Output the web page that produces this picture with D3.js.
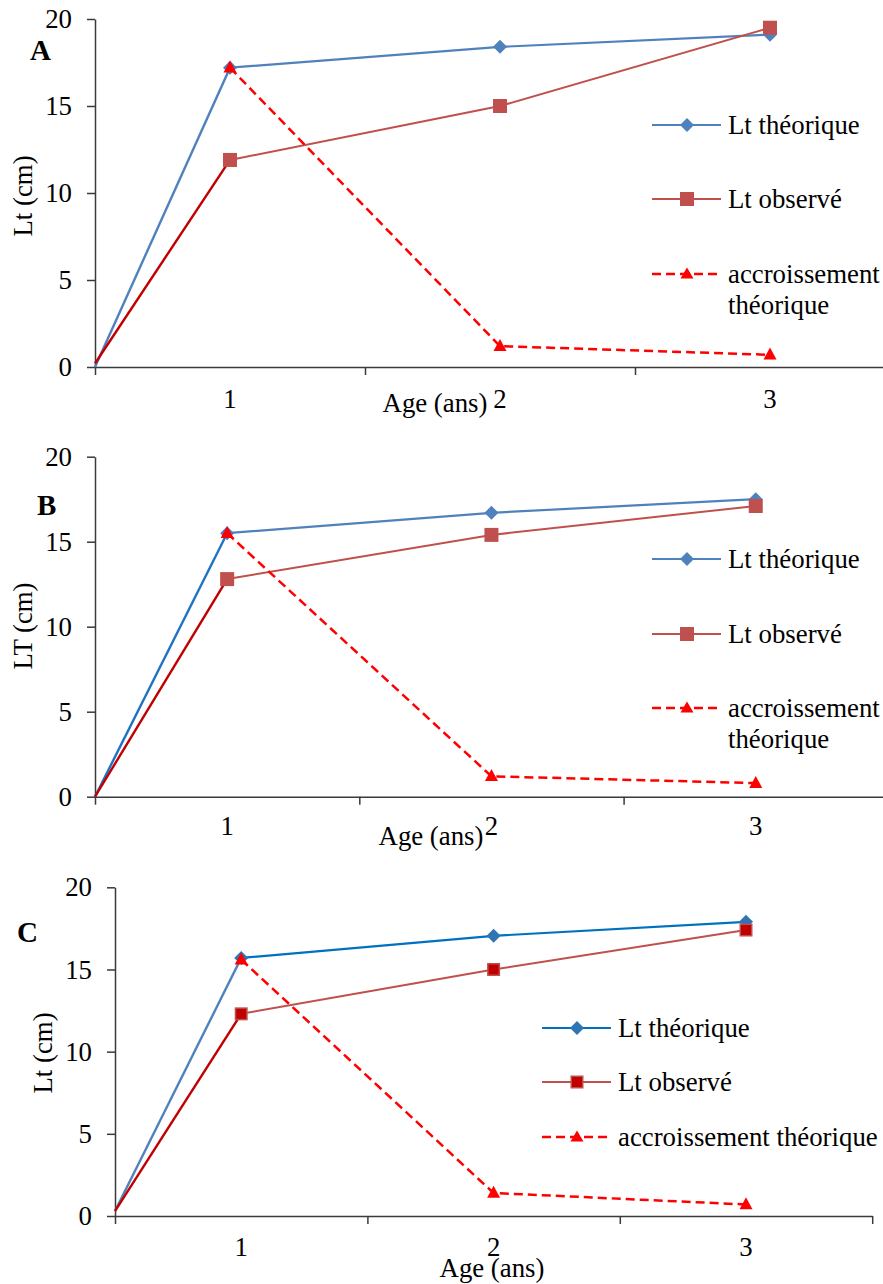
<!DOCTYPE html>
<html>
<head>
<meta charset="utf-8">
<script src="https://cdn.jsdelivr.net/npm/d3@7"></script>
<style>
  html, body { margin: 0; padding: 0; background: #fff; }
  svg { display: block; }
  svg text { font-family: "Liberation Serif", "DejaVu Serif", "Tinos", "Times New Roman", serif !important; fill: #000; }
</style>
</head>
<body>
<svg id="chart" width="883" height="1284"></svg>
<script>
// Ages (years) and axis labels
const ages = [0, 1, 2, 3];
const ageLabels = [1, 2, 3];
const yTicks = [0, 5, 10, 15, 20];
const seriesNames = ["Lt théorique", "Lt observé", "accroissement théorique"];
const panelLetters = ["A", "B", "C"];
const yTitles = ["Lt (cm)", "LT (cm)", "Lt (cm)"];
const xTitle = "Age (ans)";

// Panel A
const ltTheoA = [0, 17.2, 18.4, 19.1];
const ltObsA = [0.2, 11.9, 15.0, 19.5];
const accA = [null, 17.2, 1.2, 0.7];
// Panel B
const ltTheoB = [0, 15.5, 16.7, 17.5];
const ltObsB = [0, 12.8, 15.4, 17.1];
const accB = [null, 15.5, 1.2, 0.8];
// Panel C
const ltTheoC = [0.3, 15.7, 17.05, 17.9];
const ltObsC = [0.3, 12.3, 15.0, 17.4];
const accC = [null, 15.6, 1.4, 0.7];

const SERIF = "'Liberation Serif', 'DejaVu Serif', Tinos, 'Times New Roman', serif";
const FS = 26.8;
const BLUE = "#4F81BD", BLUE2 = "#0070C0", RED = "#C0504D", DARKRED = "#C00000", BRIGHT = "#FF0000";
const AXIS = "#3a3a3a";

const panels = [
  { theo: ltTheoA, obs: ltObsA, acc: accA,
    x0: 95, step: 270, yZero: 367, yTop: 19,
    letter: { x: 30, y: 60 }, yTitle: { x: 23, y: 196 },
    xLabelOff: 41, xTitlePos: { x: 435, y: 412 },
    legend: { x: 652, ys: [125, 199, 274], wrap: true },
    blueFirst: BLUE, blueRest: BLUE, diamond: BLUE,
    sqFill: RED, sqStroke: RED, sq: 14, legendBlue: BLUE },
  { theo: ltTheoB, obs: ltObsB, acc: accB,
    x0: 95, step: 264.3, yZero: 796.7, yTop: 456.7,
    letter: { x: 37, y: 515 }, yTitle: { x: 23, y: 626 },
    xLabelOff: 38, xTitlePos: { x: 431, y: 845 },
    legend: { x: 652, ys: [559, 634, 708], wrap: true },
    blueFirst: "#1F72C4", blueRest: BLUE, diamond: BLUE,
    sqFill: RED, sqStroke: RED, sq: 14, legendBlue: BLUE },
  { theo: ltTheoC, obs: ltObsC, acc: accC,
    x0: 115, step: 252.4, yZero: 1216, yTop: 887.3,
    letter: { x: 17, y: 942 }, yTitle: { x: 43, y: 1053 },
    xLabelOff: 40, xTitlePos: { x: 492, y: 1277 },
    legend: { x: 542, ys: [1028, 1082, 1137], wrap: false },
    blueFirst: BLUE, blueRest: BLUE2, diamond: "#2E75B6",
    sqFill: DARKRED, sqStroke: RED, sq: 11.5, legendBlue: BLUE2 }
];

const svg = d3.select("#chart").attr("font-family", SERIF);
svg.append("rect").attr("width", 883).attr("height", 1284).attr("fill", "#fff");

// marker shapes
const diamondPath = r => `M0,${-r}L${r},0L0,${r}L${-r},0Z`;
const trianglePath = (w, h) => `M0,${-h * 0.6}L${w / 2},${h * 0.4}L${-w / 2},${h * 0.4}Z`;

panels.forEach((p, i) => {
  const g = svg.append("g");
  // category slots: age 0 sits on the axis, ages 1..3 in slot centres
  const x = d3.scaleLinear()
    .domain([0, 1, 3.5])
    .range([p.x0, p.x0 + p.step / 2, p.x0 + 3 * p.step]);
  const y = d3.scaleLinear().domain([0, 20]).range([p.yZero, p.yTop]);

  // y axis
  const ya = g.append("g").attr("transform", `translate(${p.x0},0)`)
    .call(d3.axisLeft(y).tickValues(yTicks).tickSize(8).tickSizeOuter(0).tickPadding(15));
  ya.attr("font-family", SERIF).attr("font-size", FS);
  ya.select(".domain").attr("stroke", AXIS).attr("stroke-width", 1.5);
  ya.selectAll(".tick line").attr("stroke", AXIS).attr("stroke-width", 1.5);
  ya.selectAll(".tick text").attr("fill", "#000");

  // x axis: tick marks on category boundaries
  const xa = g.append("g").attr("transform", `translate(0,${p.yZero})`)
    .call(d3.axisBottom(x).tickValues([0, 1.5, 2.5, 3.5]).tickFormat("").tickSize(8).tickSizeOuter(0));
  xa.select(".domain").attr("stroke", AXIS).attr("stroke-width", 1.5);
  xa.selectAll(".tick line").attr("stroke", AXIS).attr("stroke-width", 1.5);

  // x category labels
  g.selectAll("text.xl").data(ageLabels).join("text").attr("class", "xl")
    .attr("x", d => x(d)).attr("y", p.yZero + p.xLabelOff)
    .attr("text-anchor", "middle").attr("font-size", FS).text(d => d);

  g.append("text").attr("x", p.xTitlePos.x).attr("y", p.xTitlePos.y)
    .attr("text-anchor", "middle").attr("font-size", FS).text(xTitle);

  g.append("text")
    .attr("transform", `translate(${p.yTitle.x},${p.yTitle.y}) rotate(-90)`)
    .attr("dy", "0.35em").attr("text-anchor", "middle").attr("font-size", FS)
    .text(yTitles[i]);

  g.append("text").attr("x", p.letter.x).attr("y", p.letter.y)
    .attr("font-size", 29).attr("font-weight", "bold").text(panelLetters[i]);

  const pts = arr => ages.map((a, k) => ({ a, v: arr[k] })).filter(d => d.v !== null);
  const line = d3.line().x(d => x(d.a)).y(d => y(d.v));

  // Lt théorique
  const theo = pts(p.theo);
  g.append("path").attr("d", line(theo.slice(1))).attr("fill", "none")
    .attr("stroke", p.blueRest).attr("stroke-width", 2.2);
  g.append("path").attr("d", line(theo.slice(0, 2))).attr("fill", "none")
    .attr("stroke", p.blueFirst).attr("stroke-width", 2.4);
  g.selectAll("path.dm").data(theo.filter(d => d.a > 0)).join("path").attr("class", "dm")
    .attr("transform", d => `translate(${x(d.a)},${y(d.v)})`)
    .attr("d", diamondPath(7)).attr("fill", p.diamond);

  // Lt observé
  const obs = pts(p.obs);
  g.append("path").attr("d", line(obs.slice(1))).attr("fill", "none")
    .attr("stroke", RED).attr("stroke-width", 2);
  g.append("path").attr("d", line(obs.slice(0, 2))).attr("fill", "none")
    .attr("stroke", DARKRED).attr("stroke-width", 2.4);
  g.selectAll("rect.sq").data(obs.filter(d => d.a > 0)).join("rect").attr("class", "sq")
    .attr("x", d => x(d.a) - p.sq / 2).attr("y", d => y(d.v) - p.sq / 2)
    .attr("width", p.sq).attr("height", p.sq)
    .attr("fill", p.sqFill).attr("stroke", p.sqStroke).attr("stroke-width", p.sqFill === p.sqStroke ? 0 : 1.5);

  // accroissement théorique
  const acc = pts(p.acc);
  g.append("path").attr("d", line(acc)).attr("fill", "none")
    .attr("stroke", BRIGHT).attr("stroke-width", 2.5).attr("stroke-dasharray", "9,5");
  g.selectAll("path.tr").data(acc).join("path").attr("class", "tr")
    .attr("transform", d => `translate(${x(d.a)},${y(d.v)})`)
    .attr("d", trianglePath(13, 12)).attr("fill", BRIGHT);

  // legend
  const L = p.legend;
  const lg = g.append("g");
  const items = [
    { color: p.legendBlue, dash: null, mark: "diamond", fill: p.diamond },
    { color: RED, dash: null, mark: "square", fill: p.sqFill },
    { color: BRIGHT, dash: "9,5", mark: "triangle", fill: BRIGHT }
  ];
  items.forEach((it, k) => {
    const ly = L.ys[k];
    lg.append("line").attr("x1", L.x).attr("x2", L.x + 69).attr("y1", ly).attr("y2", ly)
      .attr("stroke", it.color).attr("stroke-width", it.dash ? 2.5 : 2)
      .attr("stroke-dasharray", it.dash);
    const mx = L.x + 35;
    if (it.mark === "diamond") {
      lg.append("path").attr("transform", `translate(${mx},${ly})`).attr("d", diamondPath(7)).attr("fill", it.fill);
    } else if (it.mark === "square") {
      lg.append("rect").attr("x", mx - p.sq / 2).attr("y", ly - p.sq / 2).attr("width", p.sq).attr("height", p.sq)
        .attr("fill", it.fill).attr("stroke", p.sqStroke).attr("stroke-width", p.sqFill === p.sqStroke ? 0 : 1.5);
    } else {
      lg.append("path").attr("transform", `translate(${mx},${ly})`).attr("d", trianglePath(13, 11)).attr("fill", it.fill);
    }
    const name = seriesNames[k];
    const t = lg.append("text").attr("x", L.x + 76).attr("y", ly).attr("dy", "0.33em").attr("font-size", FS);
    if (L.wrap && k === 2) {
      const parts = name.split(" ");
      t.text(parts[0]);
      lg.append("text").attr("x", L.x + 76).attr("y", ly + 31).attr("dy", "0.33em").attr("font-size", FS).text(parts[1]);
    } else {
      t.text(name);
    }
  });
});
</script>
</body>
</html>
